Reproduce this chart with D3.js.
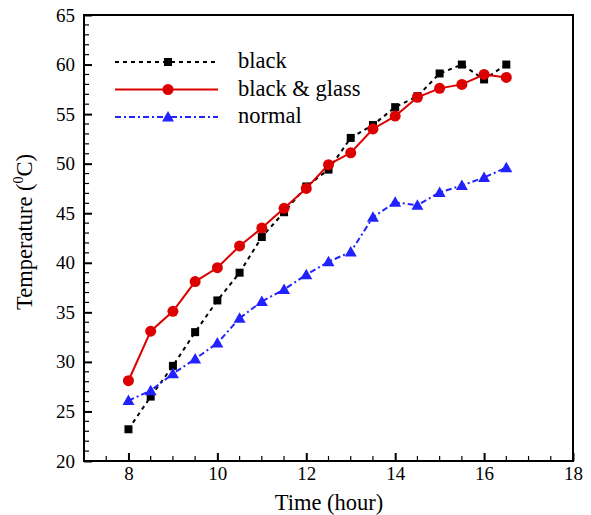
<!DOCTYPE html>
<html><head><meta charset="utf-8">
<script src="https://cdn.jsdelivr.net/npm/d3@7"></script>
<style>body{margin:0;background:#fff}svg{display:block}svg text{font-family:"Liberation Serif","Times New Roman",serif !important}</style>
</head><body><svg id="c" width="591" height="515"></svg>
<script>
const hours = [8,8.5,9,9.5,10,10.5,11,11.5,12,12.5,13,13.5,14,14.5,15,15.5,16,16.5];
const black = [23.2,26.5,29.6,33.0,36.2,39.0,42.6,45.1,47.7,49.4,52.6,53.9,55.7,56.8,59.1,60.0,58.5,60.0];
const blackGlass = [28.1,33.1,35.1,38.1,39.5,41.7,43.5,45.5,47.5,49.9,51.1,53.5,54.8,56.7,57.6,58.0,59.0,58.7];
const normal = [26.1,27.1,28.8,30.3,31.9,34.4,36.1,37.3,38.8,40.1,41.1,44.6,46.1,45.8,47.1,47.8,48.6,49.6];
const xTicks = [8,10,12,14,16,18];
const yTicks = [20,25,30,35,40,45,50,55,60,65];
const seriesNames = ["black","black & glass","normal"];

const svg = d3.select("#c");
const L=84,R=573,T=15,B=461;
const x = d3.scaleLinear().domain([7,18]).range([L,R]);
const y = d3.scaleLinear().domain([20,65]).range([B,T]);
const FF = "Liberation Serif";

svg.append("rect").attr("x",L).attr("y",T).attr("width",R-L).attr("height",B-T)
  .attr("fill","none").attr("stroke","#000").attr("stroke-width",2);

const xAxis = d3.axisBottom(x).tickValues(xTicks).tickSizeInner(-8).tickSizeOuter(0).tickPadding(6).tickFormat(d3.format("d"));
const gx = svg.append("g").attr("transform",`translate(0,${B})`).call(xAxis);
gx.attr("font-family",FF).attr("font-size",19);
gx.select(".domain").remove();
gx.selectAll(".tick line").attr("stroke-width",2);
gx.selectAll("text").style("font-family",FF).style("font-size","19px").attr("fill","#000");
const xMinor = d3.range(7,18.01,0.5).filter(v=>!xTicks.includes(v));
svg.append("g").selectAll("line").data(xMinor).join("line")
  .attr("x1",d=>x(d)).attr("x2",d=>x(d)).attr("y1",B).attr("y2",B-5).attr("stroke","#000").attr("stroke-width",1.2);

const yAxis = d3.axisLeft(y).tickValues(yTicks).tickSizeInner(-8).tickSizeOuter(0).tickPadding(9).tickFormat(d3.format("d"));
const gy = svg.append("g").attr("transform",`translate(${L},0)`).call(yAxis);
gy.attr("font-family",FF).attr("font-size",19);
gy.select(".domain").remove();
gy.selectAll(".tick line").attr("stroke-width",2);
gy.selectAll("text").style("font-family",FF).style("font-size","19px").attr("fill","#000");
const yMinor = d3.range(20,65.01,1).filter(v=>!yTicks.includes(v));
svg.append("g").selectAll("line").data(yMinor).join("line")
  .attr("x1",L).attr("x2",L+5).attr("y1",d=>y(d)).attr("y2",d=>y(d)).attr("stroke","#000").attr("stroke-width",1.2);

svg.append("text").attr("x",329).attr("y",510).attr("text-anchor","middle").attr("font-size",22.5).text("Time (hour)");
const yt = svg.append("text").attr("transform",`translate(32,232) rotate(-90)`).attr("text-anchor","middle").attr("font-size",22.5);
yt.append("tspan").text("Temperature (");
yt.append("tspan").attr("font-size",14).attr("dy",-9).text("0");
yt.append("tspan").attr("dy",9).text("C)");

const series = [
  {name:seriesNames[0], vals:black, color:"#000", dash:"4,4", sym:"square"},
  {name:seriesNames[1], vals:blackGlass, color:"#dd0000", dash:null, sym:"circle"},
  {name:seriesNames[2], vals:normal, color:"#2222ff", dash:"6,3,2,3", sym:"triangle"}
];
function marker(g, sym, color, cx, cy){
  if(sym==="square") g.append("rect").attr("x",cx-4).attr("y",cy-4).attr("width",8).attr("height",8).attr("fill",color);
  else if(sym==="circle") g.append("circle").attr("cx",cx).attr("cy",cy).attr("r",5.5).attr("fill",color);
  else g.append("path").attr("d",`M${cx},${cy-6}L${cx+6},${cy+4.5}L${cx-6},${cy+4.5}Z`).attr("fill",color);
}
const line = d3.line().x((d,i)=>x(hours[i])).y(d=>y(d));
series.forEach(s=>{
  const g = svg.append("g");
  g.append("path").attr("d",line(s.vals)).attr("fill","none").attr("stroke",s.color).attr("stroke-width",2)
    .attr("stroke-dasharray",s.dash);
  s.vals.forEach((v,i)=>marker(g,s.sym,s.color,x(hours[i]),y(v)));
});

series.forEach((s,i)=>{
  const ly = 62 + i*27.5;
  const g = svg.append("g");
  g.append("line").attr("x1",115).attr("x2",218).attr("y1",ly).attr("y2",ly).attr("stroke",s.color).attr("stroke-width",2).attr("stroke-dasharray",s.dash);
  marker(g,s.sym,s.color,168,ly);
  g.append("text").attr("x",238).attr("y",ly+6).attr("font-size",22.5).text(s.name);
});
</script></body></html>
